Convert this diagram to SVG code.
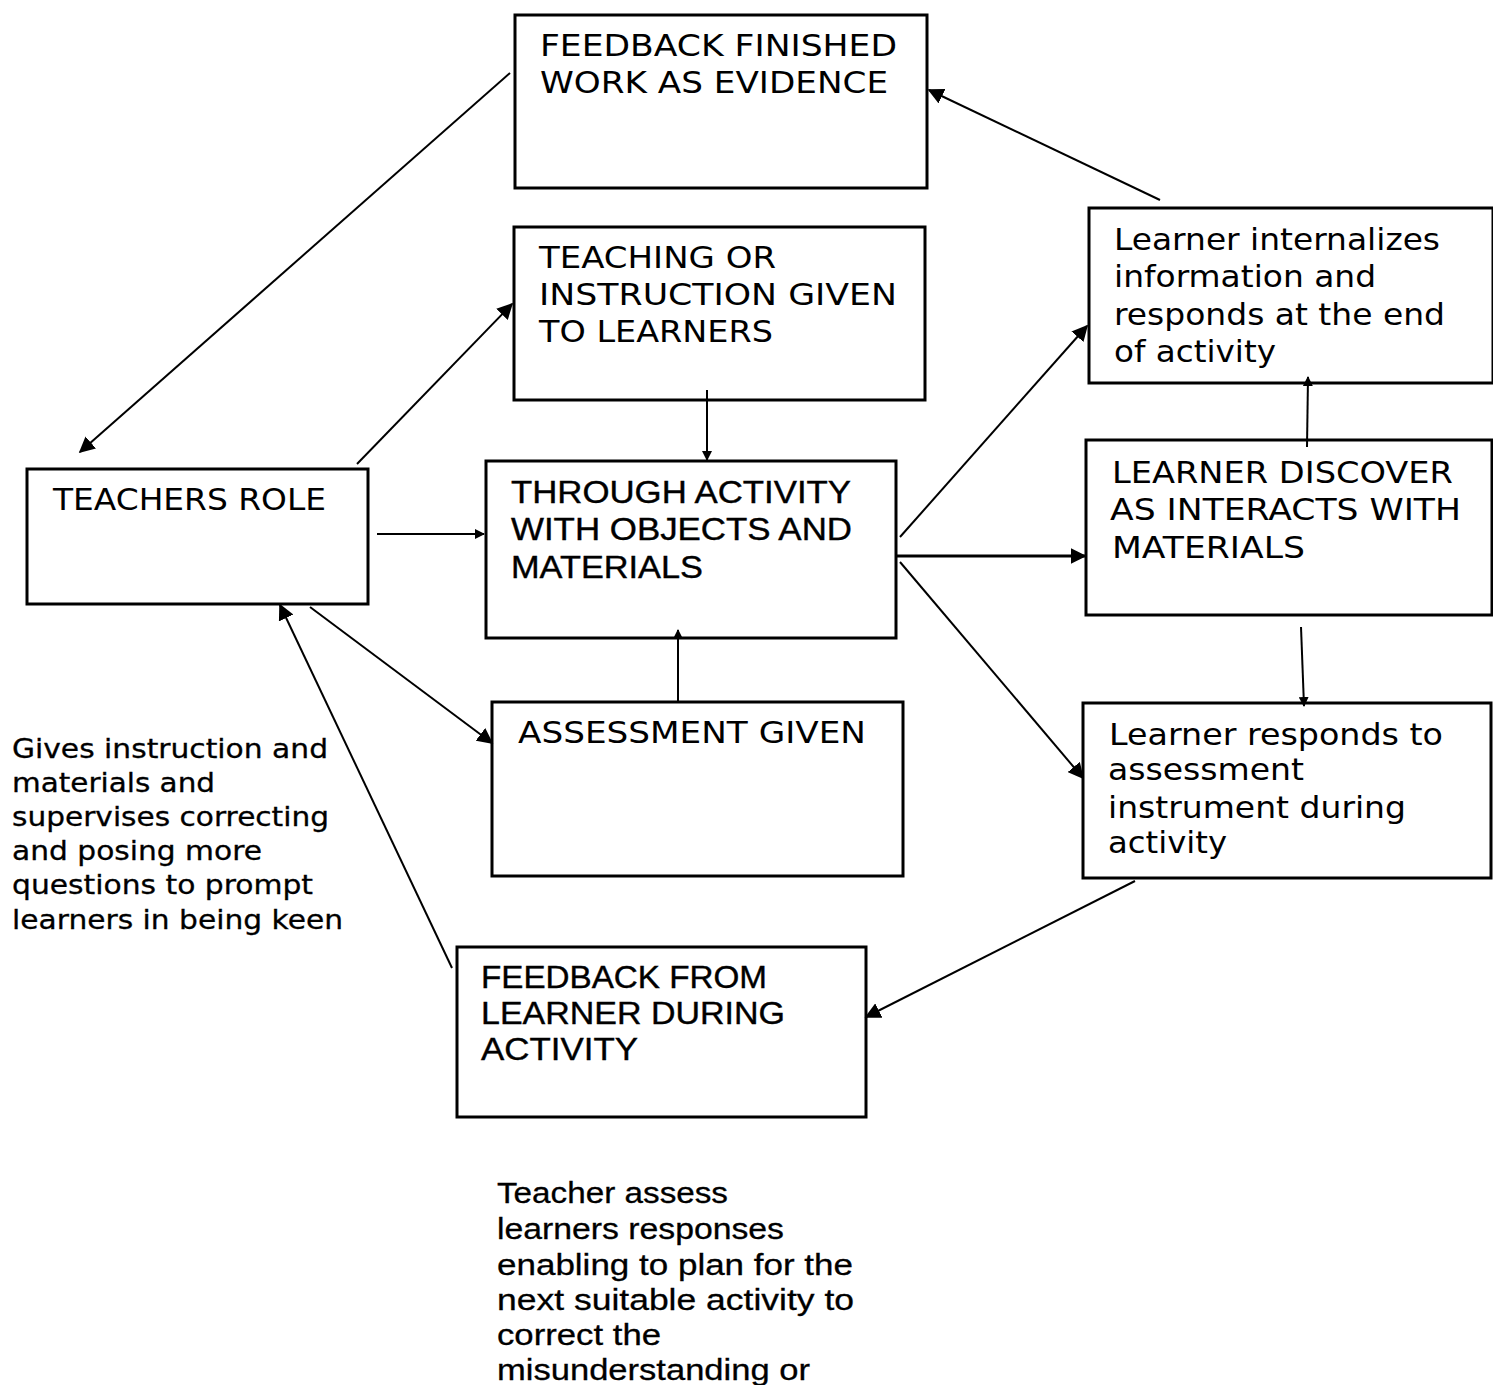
<svg xmlns="http://www.w3.org/2000/svg" width="1493" height="1385" viewBox="0 0 1493 1385">
<style>
.box{fill:#fff;stroke:#000;stroke-width:3}
.t{font-family:"DejaVu Sans",Verdana,sans-serif;font-size:31px;fill:#000}
.c{font-family:"Liberation Sans",Arial,sans-serif;font-size:32px;fill:#000;stroke:#000;stroke-width:0.4}
.n{font-family:"DejaVu Sans",Verdana,sans-serif;font-size:26px;fill:#000;stroke:#000;stroke-width:0.3}
.cn{font-family:"Liberation Sans",Arial,sans-serif;font-size:30px;fill:#000;stroke:#000;stroke-width:0.3}
.e{stroke:#000;stroke-width:2;fill:none;marker-end:url(#ahb)}
.s{marker-end:url(#ah)}
</style>
<defs>
<marker id="ah" viewBox="0 0 10 10" refX="9" refY="5" markerWidth="10" markerHeight="10" markerUnits="userSpaceOnUse" orient="auto">
<path d="M0,0 L10,5 L0,10 z" fill="#000"/>
</marker>
<marker id="ahb" viewBox="0 0 10 10" refX="9" refY="5" markerWidth="16" markerHeight="16" markerUnits="userSpaceOnUse" orient="auto">
<path d="M0,0 L10,5 L0,10 z" fill="#000"/>
</marker>
</defs>
<rect width="1493" height="1385" fill="#fff"/>
<g id="feedback-finished">
<rect class="box" x="515" y="15" width="412" height="173"/>
<text class="t" x="540" y="56" textLength="357" lengthAdjust="spacingAndGlyphs">FEEDBACK FINISHED</text>
<text class="t" x="540" y="93" textLength="348" lengthAdjust="spacingAndGlyphs">WORK AS EVIDENCE</text>
</g>
<g id="teaching">
<rect class="box" x="514" y="227" width="411" height="173"/>
<text class="t" x="539" y="268" textLength="237" lengthAdjust="spacingAndGlyphs">TEACHING OR</text>
<text class="t" x="539" y="305" textLength="358" lengthAdjust="spacingAndGlyphs">INSTRUCTION GIVEN</text>
<text class="t" x="539" y="342" textLength="234" lengthAdjust="spacingAndGlyphs">TO LEARNERS</text>
</g>
<g id="teachers-role">
<rect class="box" x="27" y="469" width="341" height="135"/>
<text class="t" x="53" y="510" textLength="273" lengthAdjust="spacingAndGlyphs">TEACHERS ROLE</text>
</g>
<g id="through-activity">
<rect class="box" x="486" y="461" width="410" height="177"/>
<text class="c" x="511" y="503" textLength="340" lengthAdjust="spacingAndGlyphs">THROUGH ACTIVITY</text>
<text class="c" x="511" y="540" textLength="341" lengthAdjust="spacingAndGlyphs">WITH OBJECTS AND</text>
<text class="c" x="511" y="578" textLength="192" lengthAdjust="spacingAndGlyphs">MATERIALS</text>
</g>
<g id="assessment">
<rect class="box" x="492" y="702" width="411" height="174"/>
<text class="t" x="518" y="743" textLength="348" lengthAdjust="spacingAndGlyphs">ASSESSMENT GIVEN</text>
</g>
<g id="learner-internalizes">
<rect class="box" x="1089" y="208" width="404" height="175"/>
<text class="t" x="1114" y="250" textLength="326" lengthAdjust="spacingAndGlyphs">Learner internalizes</text>
<text class="t" x="1114" y="287" textLength="262" lengthAdjust="spacingAndGlyphs">information and</text>
<text class="t" x="1114" y="325" textLength="331" lengthAdjust="spacingAndGlyphs">responds at the end</text>
<text class="t" x="1114" y="362" textLength="162" lengthAdjust="spacingAndGlyphs">of activity</text>
</g>
<g id="learner-discover">
<rect class="box" x="1086" y="440" width="406" height="175"/>
<text class="t" x="1112" y="483" textLength="341" lengthAdjust="spacingAndGlyphs">LEARNER DISCOVER</text>
<text class="t" x="1110" y="520" textLength="351" lengthAdjust="spacingAndGlyphs">AS INTERACTS WITH</text>
<text class="t" x="1112" y="558" textLength="193" lengthAdjust="spacingAndGlyphs">MATERIALS</text>
</g>
<g id="learner-responds">
<rect class="box" x="1083" y="703" width="408" height="175"/>
<text class="t" x="1109" y="745" textLength="334" lengthAdjust="spacingAndGlyphs">Learner responds to</text>
<text class="t" x="1108" y="780" textLength="196" lengthAdjust="spacingAndGlyphs">assessment</text>
<text class="t" x="1108" y="818" textLength="298" lengthAdjust="spacingAndGlyphs">instrument during</text>
<text class="t" x="1108" y="853" textLength="119" lengthAdjust="spacingAndGlyphs">activity</text>
</g>
<g id="feedback-from-learner">
<rect class="box" x="457" y="947" width="409" height="170"/>
<text class="c" x="481" y="988" textLength="286" lengthAdjust="spacingAndGlyphs">FEEDBACK FROM</text>
<text class="c" x="481" y="1024" textLength="304" lengthAdjust="spacingAndGlyphs">LEARNER DURING</text>
<text class="c" x="481" y="1060" textLength="157" lengthAdjust="spacingAndGlyphs">ACTIVITY</text>
</g>
<g id="note-teacher">
<text class="n" x="12" y="758" textLength="316" lengthAdjust="spacingAndGlyphs">Gives instruction and</text>
<text class="n" x="12" y="792" textLength="203" lengthAdjust="spacingAndGlyphs">materials and</text>
<text class="n" x="12" y="826" textLength="317" lengthAdjust="spacingAndGlyphs">supervises correcting</text>
<text class="n" x="12" y="860" textLength="250" lengthAdjust="spacingAndGlyphs">and posing more</text>
<text class="n" x="12" y="894" textLength="301" lengthAdjust="spacingAndGlyphs">questions to prompt</text>
<text class="n" x="12" y="929" textLength="331" lengthAdjust="spacingAndGlyphs">learners in being keen</text>
</g>
<g id="note-assess">
<text class="cn" x="497" y="1203" textLength="231" lengthAdjust="spacingAndGlyphs">Teacher assess</text>
<text class="cn" x="497" y="1239" textLength="287" lengthAdjust="spacingAndGlyphs">learners responses</text>
<text class="cn" x="497" y="1275" textLength="356" lengthAdjust="spacingAndGlyphs">enabling to plan for the</text>
<text class="cn" x="497" y="1310" textLength="357" lengthAdjust="spacingAndGlyphs">next suitable activity to</text>
<text class="cn" x="497" y="1345" textLength="164" lengthAdjust="spacingAndGlyphs">correct the</text>
<text class="cn" x="497" y="1380" textLength="313" lengthAdjust="spacingAndGlyphs">misunderstanding or</text>
</g>
<g id="connectors">
<line class="e" x1="510" y1="73" x2="80" y2="452"/>
<line class="e" x1="357" y1="464" x2="512" y2="304"/>
<line class="e s" x1="377" y1="534" x2="484" y2="534"/>
<line class="e s" x1="707" y1="390" x2="707" y2="460"/>
<line class="e s" x1="678" y1="701" x2="678" y2="630"/>
<line class="e" x1="310" y1="607" x2="492" y2="743"/>
<line class="e" x1="452" y1="968" x2="280" y2="605"/>
<line class="e" x1="900" y1="537" x2="1087" y2="326"/>
<line class="e" x1="896" y1="556" x2="1085" y2="556" style="stroke-width:3"/>
<line class="e" x1="900" y1="562" x2="1083" y2="778"/>
<line class="e s" x1="1307" y1="447" x2="1308" y2="377"/>
<line class="e s" x1="1301" y1="627" x2="1304" y2="706"/>
<line class="e" x1="1160" y1="200" x2="929" y2="90"/>
<line class="e" x1="1135" y1="881" x2="866" y2="1017"/>
</g>
</svg>
